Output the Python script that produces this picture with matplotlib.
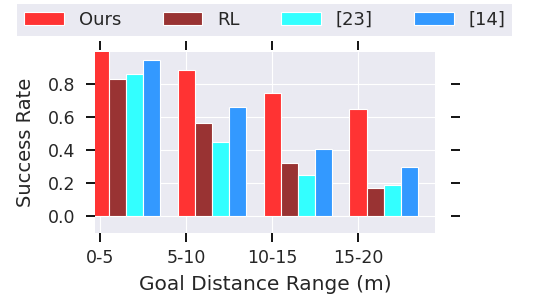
import numpy as np
import matplotlib.pyplot as plt
import seaborn as sns

categories = ['0-5', '5-10', '10-15', '15-20']
ours = [1.00, 0.88, 0.745, 0.646]
rl = [0.83, 0.56, 0.324, 0.168]
ref23 = [0.86, 0.45, 0.246, 0.188]
ref14 = [0.94, 0.656, 0.404, 0.296]

series = [('Ours', ours, '#FF3333'), ('RL', rl, '#993333'),
          ('[23]', ref23, '#33FFFF'), ('[14]', ref14, '#3399FF')]

sns.set_style('darkgrid')
plt.rcParams['font.family'] = ['DejaVu Sans']

fig = plt.figure(figsize=(5.38, 3.06), dpi=100)
ax = fig.add_axes([0.177, 0.239, 0.632, 0.591])

x = np.arange(len(categories))
w = 0.2
for k, (name, vals, col) in enumerate(series):
    ax.bar(x + k * w, vals, w, color=col, edgecolor='white', linewidth=0.8, label=name)

ax.set_xticks(x)
ax.set_xticklabels(categories)
ax.set_yticks([0.0, 0.2, 0.4, 0.6, 0.8])
ax.set_xlim(-0.06, 3.9)
ax.set_ylim(-0.1, 0.99)

ax.tick_params(axis='both', which='major', direction='out', length=6.5, width=1.3,
               color='black', labelsize=12.5, labelcolor='#262626',
               top=True, right=True, bottom=True, left=True)
ax.tick_params(axis='y', pad=8)
ax.tick_params(axis='x', pad=5)
ax.spines['right'].set_position(('outward', 11))
ax.spines['top'].set_position(('outward', 1.5))
for s in ax.spines.values():
    s.set_visible(False)

ax.set_xlabel('Goal Distance Range (m)', fontsize=14.5, color='#262626', labelpad=6)
ax.set_ylabel('Success Rate', fontsize=14, color='#262626', labelpad=9)

handles, labels = ax.get_legend_handles_labels()
leg = fig.legend(handles, labels, loc='lower left', ncol=4, mode='expand',
                 bbox_to_anchor=(0.032, 0.882, 0.92, 0.098), borderaxespad=0,
                 fontsize=13, handlelength=2.2, handleheight=0.7,
                 frameon=True, facecolor='#EAEAF2', edgecolor='none', framealpha=1,
                 fancybox=False)
for t in leg.get_texts():
    t.set_color('#262626')

fig.savefig('out.png', dpi=100)
